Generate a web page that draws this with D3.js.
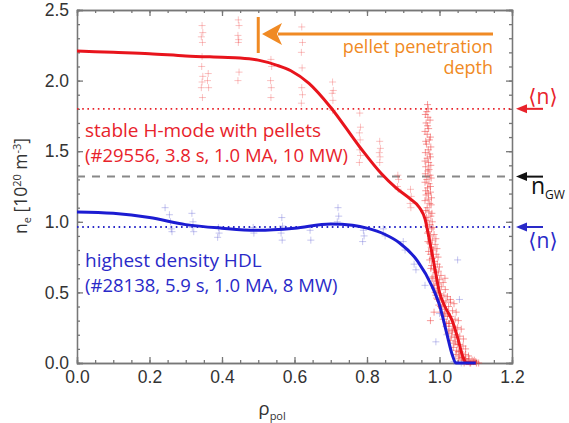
<!DOCTYPE html>
<html>
<head>
<meta charset="utf-8">
<script src="https://cdn.jsdelivr.net/npm/d3@7"></script>
<style>
  body { margin: 0; background: #fff; }
  svg { font-family: "Open Sans", "DejaVu Sans", sans-serif; }
  .axis text { font-size: 17.5px; fill: #333; }
  .axis line, .axis path { stroke: #777; stroke-width: 1.3; }
</style>
</head>
<body>
<svg id="chart" width="569" height="423"></svg>
<script>
// profile fits: [rho_pol, n_e]
const redFit = [[0,2.21],[0.1,2.2],[0.2,2.19],[0.3,2.175],[0.4,2.165],[0.45,2.16],[0.5,2.145],
  [0.55,2.11],[0.59,2.07],[0.64,1.98],[0.7,1.81],[0.78,1.53],[0.84,1.34],[0.88,1.24],[0.92,1.16],
  [0.945,1.1],[0.96,1.02],[0.97,0.9],[0.985,0.7],[1.0,0.5],[1.015,0.4],[1.035,0.3],[1.05,0.18],
  [1.065,0.04],[1.075,0.0],[1.1,0.0]];
const blueFit = [[0,1.07],[0.1,1.06],[0.2,1.03],[0.3,0.98],[0.4,0.955],[0.5,0.94],[0.6,0.955],
  [0.7,0.985],[0.76,0.975],[0.8,0.955],[0.85,0.91],[0.89,0.85],[0.94,0.72],[0.98,0.54],[1.0,0.41],
  [1.02,0.21],[1.035,0.06],[1.045,0.0],[1.1,0.0]];

// measured points, pellet discharge (core / pedestal columns)
const redPoints = [
  [0.345,2.39],[0.347,2.34],[0.343,2.31],[0.346,2.27],[0.345,2.17],[0.344,2.10],[0.347,2.03],[0.345,1.99],[0.343,1.95],[0.346,1.88],
  [0.362,2.05],[0.36,2.0],[0.363,1.95],
  [0.445,2.43],[0.447,2.39],[0.444,2.32],[0.446,2.29],[0.445,2.27],[0.447,2.06],[0.444,2.0],
  [0.535,2.15],[0.537,2.10],[0.534,2.0],[0.536,1.95],[0.535,1.88],
  [0.62,2.38],[0.622,2.27],[0.619,2.2],[0.621,2.09],[0.62,1.95],[0.622,1.90],[0.619,1.84],
  [0.705,1.99],[0.707,1.93],[0.704,1.91],[0.706,1.86],[0.705,1.79],
  [0.78,1.77],[0.782,1.67],[0.779,1.63],[0.781,1.58],[0.78,1.51],[0.782,1.47],[0.779,1.42],
  [0.835,1.57],[0.837,1.52],[0.834,1.49],[0.836,1.46],[0.835,1.42],
  [0.885,1.33],[0.887,1.30],[0.884,1.25],[0.886,1.23],
  [0.92,1.23],[0.922,1.18],[0.919,1.13],[0.921,1.10]
];
// measured points, pellet discharge (dense edge)
const redEdgePoints = [
  [0.965,1.78],[0.968,1.74],[0.963,1.70],[0.97,1.66],[0.966,1.62],[0.972,1.58],[0.964,1.55],[0.969,1.51],
  [0.973,1.48],[0.966,1.45],[0.97,1.42],[0.962,1.39],[0.968,1.36],[0.974,1.33],[0.965,1.30],[0.971,1.27],
  [0.967,1.24],[0.975,1.21],[0.963,1.19],[0.969,1.16],[0.973,1.13],[0.966,1.10],[0.971,1.07],[0.976,1.04],
  [0.968,1.01],[0.973,0.98],[0.978,0.95],[0.97,0.93],[0.975,0.90],[0.98,0.87],[0.972,0.85],[0.977,0.82],
  [0.961,1.76],[0.974,1.72],[0.967,1.68],[0.96,1.64],[0.975,1.60],[0.962,1.57],[0.976,1.53],[0.961,1.49],
  [0.975,1.46],[0.96,1.43],[0.976,1.40],[0.971,1.37],[0.961,1.34],[0.977,1.31],[0.96,1.28],[0.975,1.25],
  [0.962,1.22],[0.969,1.20],[0.978,1.17],[0.96,1.15],[0.977,1.12],[0.962,1.08],[0.979,1.06],[0.964,1.03],
  [0.98,1.0],[0.966,0.97],[0.982,0.96],[0.967,1.83],[0.969,1.8],
  [0.983,0.80],[0.975,0.77],[0.98,0.74],[0.986,0.72],[0.978,0.69],[0.984,0.66],[0.99,0.64],[0.982,0.61],
  [0.988,0.58],[0.995,0.56],[0.986,0.53],[0.993,0.51],[1.0,0.49],[0.992,0.46],[1.0,0.44],[1.008,0.43],
  [0.998,0.41],[1.006,0.39],[1.015,0.38],[1.004,0.36],[1.012,0.34],[1.022,0.33],[1.01,0.31],[1.019,0.29],
  [1.028,0.28],[1.018,0.26],[1.026,0.24],[1.035,0.23],[1.024,0.21],[1.033,0.19],[1.042,0.18],[1.03,0.16],
  [1.04,0.14],[1.05,0.13],[1.038,0.11],[1.047,0.09],[1.057,0.08],[1.045,0.06],[1.055,0.05],[1.064,0.04],
  [1.052,0.03],[1.062,0.02],[1.072,0.02],[1.068,0.0],[1.078,0.01],[1.086,0.0],[1.094,0.01],[1.102,0.0],
  [0.967,0.92],[0.985,0.91],[0.99,0.88],[0.968,0.86],[0.988,0.84],[0.993,0.81],[0.97,0.79],[0.991,0.77],
  [0.996,0.75],[0.973,0.73],[0.994,0.70],[1.0,0.68],[0.976,0.67],[0.997,0.65],[1.004,0.62],[0.979,0.6],
  [1.0,0.59],[1.01,0.57],[0.983,0.55],[1.005,0.54],[1.016,0.52],[0.988,0.5],[1.012,0.48],[1.022,0.47],
  [0.995,0.45],[1.018,0.44],[1.03,0.43],[1.04,0.42],[1.003,0.40],[1.025,0.40],[1.036,0.37],[1.046,0.36],
  [1.015,0.35],[1.03,0.33],[1.043,0.31],[1.052,0.3],[1.025,0.28],[1.038,0.26],[1.05,0.25],[1.06,0.24],
  [1.035,0.22],[1.045,0.2],[1.056,0.19],[1.066,0.17],[1.044,0.15],[1.055,0.13],[1.065,0.12],[1.072,0.1],
  [1.052,0.08],[1.062,0.07],[1.072,0.06],[1.08,0.05],[1.06,0.04],[1.07,0.03],[1.082,0.03],[1.09,0.02],
  [1.074,0.01],[1.084,0.0],[1.096,0.02],[1.1,0.01],[1.108,0.0],
  [0.99,0.48],[0.985,0.36],[0.975,0.3],[1.015,0.6],[1.03,0.45]
];
// measured points, HDL discharge
const bluePoints = [
  [0.243,1.10],[0.255,1.05],[0.258,1.0],[0.26,0.95],[0.262,0.93],[0.317,1.06],[0.32,1.0],[0.318,0.96],
  [0.322,0.93],[0.39,0.96],[0.392,0.92],[0.388,0.89],[0.486,0.96],[0.488,0.92],[0.565,1.03],[0.567,0.97],
  [0.563,0.92],[0.566,0.87],[0.643,0.94],[0.645,0.87],[0.72,1.10],[0.722,1.04],[0.718,1.0],[0.79,0.94],
  [0.792,0.90],[0.788,0.86],[0.845,0.95],[0.85,0.9],[0.9,0.86],[0.905,0.80],[0.93,0.70],[0.935,0.66],
  [0.96,0.55],[1.05,0.73],[1.055,0.45],[0.99,0.15],[1.0,0.35],[1.02,0.2],[1.04,0.01],[1.06,0.0],[1.08,0.01]
];

// reference levels
const redMean = 1.8;
const blueMean = 0.963;
const greenwald = 1.32;
const pelletDepth = 0.5;

const xTicks = [0, 0.2, 0.4, 0.6, 0.8, 1.0, 1.2];
const yTicks = [0, 0.5, 1.0, 1.5, 2.0, 2.5];

const svg = d3.select('#chart');
const mLeft = 77, mRight = 512, mTop = 10, mBottom = 363;

const x = d3.scaleLinear().domain([0, 1.2]).range([mLeft, mRight]);
const y = d3.scaleLinear().domain([0, 2.5]).range([mBottom, mTop]);

const minorX = d3.range(0, 1.2001, 0.05);
const minorY = d3.range(0, 2.5001, 0.1);

// minor ticks, all four sides
svg.append('g').attr('class', 'axis').attr('transform', 'translate(0,' + mBottom + ')')
  .call(d3.axisBottom(x).tickValues(minorX).tickSize(-3).tickFormat(''));
svg.append('g').attr('class', 'axis').attr('transform', 'translate(0,' + mTop + ')')
  .call(d3.axisTop(x).tickValues(minorX).tickSize(-3).tickFormat(''));
svg.append('g').attr('class', 'axis').attr('transform', 'translate(' + mLeft + ',0)')
  .call(d3.axisLeft(y).tickValues(minorY).tickSize(-3).tickFormat(''));
svg.append('g').attr('class', 'axis').attr('transform', 'translate(' + mRight + ',0)')
  .call(d3.axisRight(y).tickValues(minorY).tickSize(-3).tickFormat(''));

// major ticks
svg.append('g').attr('class', 'axis').attr('transform', 'translate(0,' + mBottom + ')')
  .call(d3.axisBottom(x).tickValues(xTicks).tickSize(-6).tickPadding(8).tickFormat(d3.format('.1f')));
svg.append('g').attr('class', 'axis').attr('transform', 'translate(0,' + mTop + ')')
  .call(d3.axisTop(x).tickValues(xTicks).tickSize(-6).tickFormat(''));
svg.append('g').attr('class', 'axis').attr('transform', 'translate(' + mLeft + ',0)')
  .call(d3.axisLeft(y).tickValues(yTicks).tickSize(-6).tickPadding(8).tickFormat(d3.format('.1f')));
svg.append('g').attr('class', 'axis').attr('transform', 'translate(' + mRight + ',0)')
  .call(d3.axisRight(y).tickValues(yTicks).tickSize(-6).tickFormat(''));

svg.selectAll('.axis path').attr('stroke-width', 1.6);

// axis titles
const xt = svg.append('text').attr('x', 272).attr('y', 415).attr('text-anchor', 'middle')
  .attr('font-size', 19).attr('fill', '#333');
xt.append('tspan').text('ρ');
xt.append('tspan').attr('dy', 5).attr('font-size', 11).text('pol');

const yt = svg.append('text').attr('transform', 'translate(27,186) rotate(-90)')
  .attr('text-anchor', 'middle').attr('font-size', 17.5).attr('fill', '#333');
yt.append('tspan').text('n');
yt.append('tspan').attr('dy', 4).attr('font-size', 11).text('e');
yt.append('tspan').attr('dy', -4).text(' [10');
yt.append('tspan').attr('dy', -6).attr('font-size', 11).text('20');
yt.append('tspan').attr('dy', 6).text(' m');
yt.append('tspan').attr('dy', -6).attr('font-size', 11).text('-3');
yt.append('tspan').attr('dy', 6).text(']');

// horizontal reference lines
svg.append('line').attr('x1', mLeft).attr('x2', mRight).attr('y1', y(greenwald)).attr('y2', y(greenwald))
  .attr('stroke', '#888').attr('stroke-width', 2).attr('stroke-dasharray', '8,7');
svg.append('line').attr('x1', mLeft).attr('x2', mRight).attr('y1', y(redMean)).attr('y2', y(redMean))
  .attr('stroke', '#e8232b').attr('stroke-width', 1.8).attr('stroke-dasharray', '1.6,3.6');
svg.append('line').attr('x1', mLeft).attr('x2', mRight).attr('y1', y(blueMean)).attr('y2', y(blueMean))
  .attr('stroke', '#2a2ac8').attr('stroke-width', 1.8).attr('stroke-dasharray', '1.6,3.6');

// scatter crosses
const cross = 'M-3.5,0H3.5M0,-3.5V3.5';
function crosses(data, color, op) {
  svg.append('g').selectAll('path').data(data).join('path')
    .attr('d', cross).attr('transform', d => 'translate(' + x(d[0]) + ',' + y(d[1]) + ')')
    .attr('stroke', color).attr('stroke-opacity', op).attr('stroke-width', 1);
}
crosses(bluePoints, '#6f6fd8', 0.4);
crosses(redPoints, '#f05050', 0.35);
crosses(redEdgePoints, '#f03a3a', 0.5);

// fit lines
const line = d3.line().x(d => x(d[0])).y(d => y(d[1])).curve(d3.curveMonotoneX);
svg.append('path').datum(redFit).attr('d', line).attr('fill', 'none')
  .attr('stroke', '#e8141c').attr('stroke-width', 3);
svg.append('path').datum(blueFit).attr('d', line).attr('fill', 'none')
  .attr('stroke', '#1c1cd2').attr('stroke-width', 3);

// annotations
const red = '#e8232b', blue = '#2a2ac8', orange = '#f08a24';
svg.append('text').attr('x', 85).attr('y', 137).attr('font-size', 19).attr('fill', red)
  .text('stable H-mode with pellets');
svg.append('text').attr('x', 85).attr('y', 162).attr('font-size', 18.5).attr('fill', red)
  .text('(#29556, 3.8 s, 1.0 MA, 10 MW)');
svg.append('text').attr('x', 85).attr('y', 267).attr('font-size', 19).attr('fill', blue)
  .text('highest density HDL');
svg.append('text').attr('x', 85).attr('y', 292).attr('font-size', 18.5).attr('fill', blue)
  .text('(#28138, 5.9 s, 1.0 MA, 8 MW)');

// pellet penetration marker
svg.append('line').attr('x1', x(pelletDepth)).attr('x2', x(pelletDepth)).attr('y1', 17).attr('y2', 53)
  .attr('stroke', orange).attr('stroke-width', 3);
svg.append('line').attr('x1', 278).attr('x2', 493).attr('y1', 34).attr('y2', 34)
  .attr('stroke', orange).attr('stroke-width', 3);
svg.append('path').attr('d', 'M262,34L282,23L277,34L282,45Z').attr('fill', orange);
svg.append('text').attr('x', 493).attr('y', 53).attr('text-anchor', 'end').attr('font-size', 18)
  .attr('fill', orange).text('pellet penetration');
svg.append('text').attr('x', 493).attr('y', 74).attr('text-anchor', 'end').attr('font-size', 18)
  .attr('fill', orange).text('depth');

// right-hand arrows
function sideArrow(yv, color) {
  const yy = y(yv);
  svg.append('line').attr('x1', 524).attr('x2', 543).attr('y1', yy).attr('y2', yy)
    .attr('stroke', color).attr('stroke-width', 2);
  svg.append('path').attr('d', 'M516,' + yy + 'L527,' + (yy - 4.5) + 'L527,' + (yy + 4.5) + 'Z').attr('fill', color);
}
sideArrow(redMean, red);
sideArrow(greenwald, '#111');
sideArrow(blueMean, blue);

svg.append('text').attr('x', 543).attr('y', 104).attr('text-anchor', 'middle').attr('font-size', 21)
  .attr('fill', red).text('⟨n⟩');
svg.append('text').attr('x', 543).attr('y', 248).attr('text-anchor', 'middle').attr('font-size', 21)
  .attr('fill', blue).text('⟨n⟩');
const gw = svg.append('text').attr('x', 531).attr('y', 194).attr('font-size', 23).attr('fill', '#111');
gw.append('tspan').text('n');
gw.append('tspan').attr('dy', 5).attr('font-size', 12).text('GW');
</script>
</body>
</html>
